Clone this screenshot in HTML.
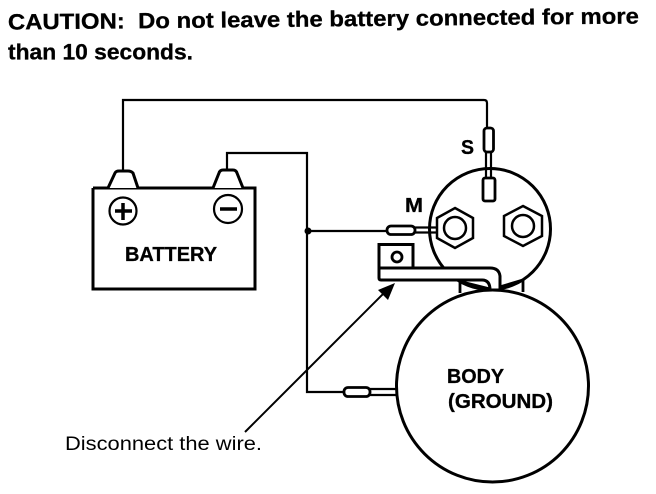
<!DOCTYPE html>
<html><head><meta charset="utf-8"><style>
html,body{margin:0;padding:0;background:#fff}
svg{display:block}
text{font-family:"Liberation Sans",sans-serif;fill:#000}
.b{font-weight:bold;stroke:#000;stroke-width:0.3px}
</style></head><body>
<svg width="656" height="494" viewBox="0 0 656 494" xmlns="http://www.w3.org/2000/svg">
<rect width="656" height="494" fill="#fff"/>
<text class="b" transform="translate(8,29.5) rotate(-0.55)" font-size="22" textLength="631" lengthAdjust="spacingAndGlyphs">CAUTION:&#160; Do not leave the battery connected for more</text>
<text class="b" x="8" y="59.500" font-size="22" textLength="185" lengthAdjust="spacingAndGlyphs">than 10 seconds.</text>

<g fill="none" stroke="#000" stroke-width="2.200">
<!-- wires -->
<path d="M123 172V100H484Q487 100 487 103V127"/>
<path d="M227 171V153H307V392H344"/>
<path d="M307 231H387"/>
<!-- battery -->
<path d="M93 188V289H255V188H93" stroke-width="3"/>
<path d="M108 188L115 173Q116 171 119 171H128Q131 171 133 173L138 188" fill="#fff" stroke-width="3"/>
<path d="M213 188L219 173Q220 170 223 170H233Q236 170 237 173L243 188" fill="#fff" stroke-width="3"/>
<circle cx="123" cy="211" r="13.500"/>
<path d="M115 211H132M123 203V220" stroke-width="3.500"/>
<circle cx="228" cy="209" r="14"/>
<path d="M220 209H237" stroke-width="3.500"/>
<!-- solenoid -->
<circle cx="490" cy="229" r="60.500" stroke-width="3"/>
<!-- body -->
<circle cx="492.500" cy="386" r="96" fill="#fff" stroke-width="3"/>
<!-- supports -->
<path d="M460 280V293M523 280V292M462 282L490 289M493 289L523 280" stroke-width="2.800"/>
<!-- strap and lug -->
<path d="M379 268V244.500H413V268H490Q499 268 500 276V290H490Q490 280 482 280H381Q379 280 379 278V268H413" fill="#fff" stroke-width="3"/>
<circle cx="397" cy="257" r="5" stroke-width="2.800"/>
<!-- nuts -->
<polygon points="455,208 473,218 473,238 455,248 437,238 437,218" fill="#fff" stroke-width="2.500"/>
<circle cx="455" cy="228" r="11" stroke-width="2.500"/>
<polygon points="523,206 542,216 542,236 523,246 504,236 504,216" fill="#fff" stroke-width="2.500"/>
<circle cx="523" cy="226" r="11" stroke-width="2.500"/>
<!-- S connector -->
<path d="M486 151V178M491 151V178"/>
<rect x="484" y="128" width="9.500" height="24" rx="3" fill="#fff" stroke-width="2.800"/>
<rect x="483" y="178" width="12" height="23" rx="2" fill="#fff" stroke-width="2.800"/>
<!-- M connector -->
<path d="M414 227.500H438M414 232.500H438"/>
<rect x="387" y="226" width="28" height="8.500" rx="4" fill="#fff" stroke-width="2.800"/>
<!-- ground connector -->
<path d="M369 389H396M369 395H396"/>
<rect x="344" y="387.500" width="26" height="9" rx="4" fill="#fff" stroke-width="2.800"/>
<!-- arrow -->
<path d="M245 432L385 292" stroke-width="2"/>
</g>
<circle cx="308" cy="231" r="3.500" fill="#000"/>
<polygon points="395,283 378,290 388,300" fill="#000"/>

<text class="b" x="125" y="261" font-size="20" textLength="92" lengthAdjust="spacingAndGlyphs">BATTERY</text>
<text class="b" x="461" y="154" font-size="20" textLength="13" lengthAdjust="spacingAndGlyphs">S</text>
<text class="b" x="405" y="212" font-size="20" textLength="18" lengthAdjust="spacingAndGlyphs">M</text>
<text class="b" x="447" y="383" font-size="20" textLength="57" lengthAdjust="spacingAndGlyphs">BODY</text>
<text class="b" x="448" y="408" font-size="20" textLength="105" lengthAdjust="spacingAndGlyphs">(GROUND)</text>
<text x="65" y="450" font-size="19" textLength="197" lengthAdjust="spacingAndGlyphs">Disconnect the wire.</text>
</svg>
</body></html>
